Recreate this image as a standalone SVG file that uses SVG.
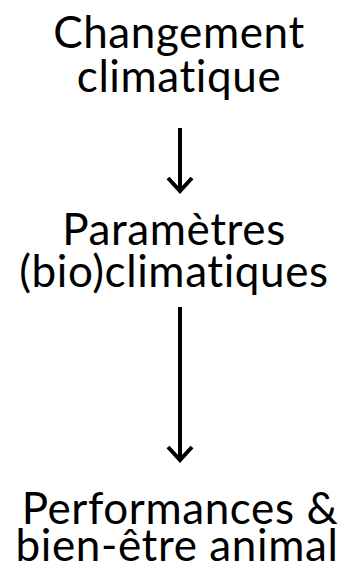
<svg xmlns="http://www.w3.org/2000/svg" width="349" height="570" viewBox="0 0 349 570">
<style>
text{font-family:Lato,"Noto Sans","Liberation Sans",sans-serif;font-size:44px;font-weight:400;fill:#000;text-anchor:middle;font-variant-ligatures:none;letter-spacing:0.6px}
.c{stroke:#000;stroke-width:4;fill:none}
</style>
<rect width="349" height="570" fill="#fff"/>
<g id="n1"><text x="179" y="48">Changement</text><text x="179" y="92">climatique</text></g>
<g id="n2"><text x="174" y="245">Paramètres</text><text x="174" y="287">(bio)climatiques</text></g>
<g id="n3"><text x="180" y="524">Performances &amp;</text><text x="177" y="561">bien-être animal</text></g>
<g id="connectors">
<path class="c" d="M180 128V191M168 178L180 191L192 178"/>
<path class="c" d="M180 307V460M168 447L180 460L192 447"/>
</g>
</svg>
